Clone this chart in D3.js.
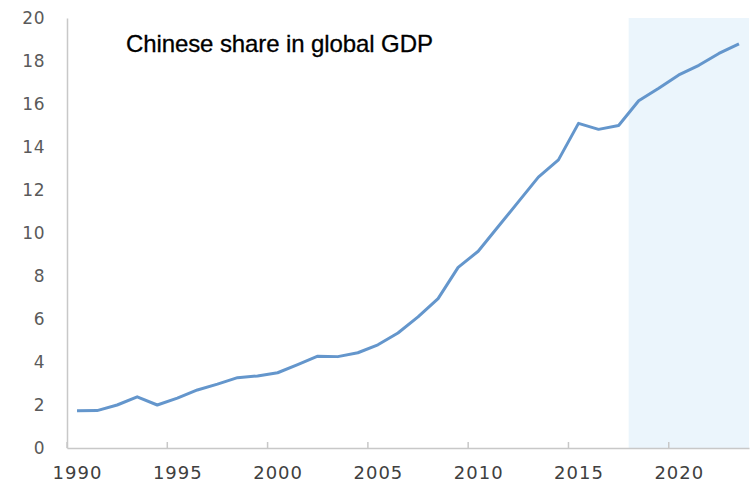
<!DOCTYPE html>
<html>
<head>
<meta charset="utf-8">
<script src="https://cdn.jsdelivr.net/npm/d3@7"></script>
<style>
  html, body { margin: 0; padding: 0; background: #fff; }
  svg { display: block; }
</style>
</head>
<body>
<svg id="chart" width="752" height="489"></svg>
<script>
const years = [1990,1991,1992,1993,1994,1995,1996,1997,1998,1999,2000,2001,2002,2003,2004,2005,2006,2007,2008,2009,2010,2011,2012,2013,2014,2015,2016,2017,2018,2019,2020,2021,2022,2023];
const share = [1.73,1.74,2.0,2.38,2.0,2.32,2.7,2.97,3.27,3.35,3.5,3.88,4.27,4.25,4.43,4.8,5.35,6.1,6.95,8.4,9.15,10.3,11.45,12.6,13.4,15.1,14.82,15.0,16.15,16.73,17.35,17.8,18.35,18.8];
const yTicks = [0,2,4,6,8,10,12,14,16,18,20];
const xLabels = [1990,1995,2000,2005,2010,2015,2020];
const forecastStart = 2018;
const title = "Chinese share in global GDP";

const svg = d3.select("#chart");
const x = d3.scaleLinear().domain([1989.5, 2023.5]).range([67, 749]);
const y = d3.scaleLinear().domain([0, 20]).range([448, 18]);

// shaded forecast region
svg.append("rect")
  .attr("x", x(forecastStart - 0.5))
  .attr("y", y(20))
  .attr("width", x(2023.5) - x(forecastStart - 0.5))
  .attr("height", y(0) - y(20))
  .attr("fill", "#ebf5fc");

// y axis
const yAxis = svg.append("g")
  .attr("transform", `translate(${x(1989.5)},0)`)
  .call(d3.axisLeft(y).tickValues(yTicks).tickSize(0).tickPadding(22));
yAxis.select(".domain").attr("stroke", "#c8c8c8").attr("stroke-width", 1.5);
yAxis.selectAll("text")
  .attr("fill", "#5a5a5a")
  .style("font-family", "'DejaVu Sans', sans-serif")
  .style("font-size", "17px")
  .style("letter-spacing", "0.5px");

// x axis
const xAxis = svg.append("g")
  .attr("transform", `translate(0,${y(0)})`)
  .call(d3.axisBottom(x).tickValues(xLabels).tickFormat(d3.format("d")).tickSize(0).tickPadding(18));
xAxis.select(".domain").attr("stroke", "#c8c8c8").attr("stroke-width", 1.5);
xAxis.selectAll("text")
  .attr("fill", "#404040")
  .style("font-family", "'DejaVu Sans', sans-serif")
  .style("font-size", "18px")
  .style("letter-spacing", "1px");

// tick marks (category boundaries, inside)
svg.append("g").selectAll("line")
  .data(xLabels)
  .join("line")
  .attr("x1", d => x(d - 0.5))
  .attr("x2", d => x(d - 0.5))
  .attr("y1", y(0))
  .attr("y2", y(0) - 6)
  .attr("stroke", "#c8c8c8")
  .attr("stroke-width", 1.5);

// line
const line = d3.line()
  .x((d, i) => x(years[i]))
  .y(d => y(d));
svg.append("path")
  .datum(share)
  .attr("d", line)
  .attr("fill", "none")
  .attr("stroke", "#6496cc")
  .attr("stroke-width", 3)
  .attr("stroke-linejoin", "round");

// title
svg.append("text")
  .attr("x", 126)
  .attr("y", 52)
  .attr("fill", "#000")
  .attr("stroke", "#000")
  .attr("stroke-width", 0.3)
  .style("font-family", "'Liberation Sans', Arial, sans-serif")
  .style("font-size", "24px")
  .style("letter-spacing", "-0.1px")
  .text(title);
</script>
</body>
</html>
